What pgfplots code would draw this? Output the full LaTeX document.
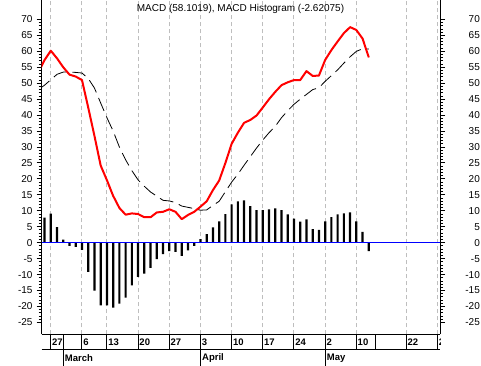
\documentclass[border=0pt]{standalone}
\usepackage{pgfplots}
\pgfplotsset{compat=1.18}
\usepackage{fontspec}
\setmainfont{Liberation Sans}
\definecolor{gridgray}{RGB}{190,190,190}
\begin{document}
\begin{tikzpicture}[x=1pt,y=1pt]
\useasboundingbox (0,0) rectangle (481,366);
% vertical dashed grid lines (behind everything)
\foreach \i in {0,5,9,14,19,24,29,34,39,44,49,57,62}{
  \pgfmathsetmacro\px{41.7+(\i+1.46)*6.2351}
  \draw[gridgray, line width=1pt, dash pattern=on 4pt off 3pt] (\px,31.7) -- (\px,366);
}
\begin{axis}[
  at={(41.7pt,31.7pt)}, anchor=south west,
  scale only axis, width=398.3pt, height=334.3pt,
  xmin=-1.46, xmax=62.42, ymin=-28.7, ymax=76.1,
  axis x line=bottom, axis y line=box,
  axis line style={-, line width=1pt, black},
  xtick=\empty,
  ytick={-25,-20,-15,-10,-5,0,5,10,15,20,25,30,35,40,45,50,55,60,65,70},
  yticklabels={-25,-20,-15,-10,-5,0,5,10,15,20,25,30,35,40,45,50,55,60,65,70},
  minor y tick num=4,
  tick align=outside, ytick pos=both,
  major tick length=5pt, minor tick length=3pt,
  tick style={black, line width=1pt},
  yticklabel style={font=\fontsize{10}{12}\selectfont, anchor=east, inner sep=0pt, xshift=-4pt},
]
\addplot[ybar, bar width=2.2pt, fill=black, draw=none] table[row sep=\\] {
x y\\
-1 7.9\\ 0 9.1\\ 1 4.9\\ 2 1.0\\ 3 -1.0\\ 4 -1.3\\ 5 -2.2\\ 6 -9.1\\ 7 -15.0\\ 8 -19.6\\
9 -19.6\\ 10 -20.3\\ 11 -19.1\\ 12 -17.2\\ 13 -13.4\\ 14 -10.7\\ 15 -9.7\\ 16 -7.9\\ 17 -5.1\\ 18 -3.6\\
19 -2.6\\ 20 -2.9\\ 21 -4.1\\ 22 -2.4\\ 23 -1.0\\ 24 1.1\\ 25 2.7\\ 26 4.8\\ 27 6.7\\ 28 9.0\\
29 12.0\\ 30 13.0\\ 31 13.3\\ 32 11.5\\ 33 10.2\\ 34 10.2\\ 35 10.5\\ 36 10.8\\ 37 10.2\\ 38 8.9\\
39 7.6\\ 40 6.6\\ 41 7.3\\ 42 4.3\\ 43 4.0\\ 44 6.7\\ 45 8.0\\ 46 8.9\\ 47 9.2\\ 48 9.5\\
49 6.7\\ 50 3.4\\ 51 -2.62\\
};
\addplot[blue, line width=1pt] coordinates {(-1.46,0) (62.42,0)};
\addplot[black, line width=0.8pt, dash pattern=on 14pt off 6pt] table[row sep=\\] {
x y\\
-2 48.0\\ -1 49.4\\ 0 51.1\\ 1 52.8\\ 2 53.5\\ 3 53.5\\ 4 53.4\\ 5 53.2\\ 6 51.5\\ 7 48.5\\
8 43.8\\ 9 39.2\\ 10 35.0\\ 11 30.0\\ 12 26.0\\ 13 22.6\\ 14 19.7\\ 15 17.7\\ 16 15.9\\ 17 14.6\\
18 13.3\\ 19 13.1\\ 20 12.6\\ 21 11.5\\ 22 11.1\\ 23 10.7\\ 24 10.2\\ 25 10.3\\ 26 11.7\\ 27 13.0\\
28 16.0\\ 29 19.0\\ 30 21.5\\ 31 24.3\\ 32 27.0\\ 33 29.7\\ 34 32.2\\ 35 34.5\\ 36 36.5\\ 37 39.2\\
38 41.4\\ 39 43.4\\ 40 45.0\\ 41 46.5\\ 42 48.0\\ 43 48.6\\ 44 50.6\\ 45 52.4\\ 46 54.2\\ 47 56.3\\
48 58.3\\ 49 60.0\\ 50 60.8\\ 51 60.72\\
};
\addplot[red, line width=2pt, line join=round] table[row sep=\\] {
x y\\
-2 53.3\\ -1 57.3\\ 0 60.2\\ 1 57.8\\ 2 55.0\\ 3 52.7\\ 4 52.1\\ 5 51.0\\ 6 42.4\\ 7 33.5\\
8 24.2\\ 9 19.6\\ 10 14.7\\ 11 10.9\\ 12 8.8\\ 13 9.2\\ 14 9.0\\ 15 8.0\\ 16 8.0\\ 17 9.5\\
18 9.7\\ 19 10.5\\ 20 9.7\\ 21 7.4\\ 22 8.7\\ 23 9.7\\ 24 11.3\\ 25 13.0\\ 26 16.5\\ 27 19.5\\
28 25.0\\ 29 31.0\\ 30 34.5\\ 31 37.6\\ 32 38.5\\ 33 39.9\\ 34 42.4\\ 35 45.0\\ 36 47.3\\ 37 49.4\\
38 50.3\\ 39 51.0\\ 40 51.0\\ 41 53.8\\ 42 52.3\\ 43 52.4\\ 44 57.3\\ 45 60.4\\ 46 63.1\\ 47 65.7\\
48 67.6\\ 49 66.7\\ 50 64.0\\ 51 58.1\\
};
\end{axis}
% right-hand tick labels
\begin{axis}[
  at={(41.7pt,31.7pt)}, anchor=south west,
  scale only axis, width=398.3pt, height=334.3pt,
  xmin=-1.46, xmax=62.42, ymin=-28.7, ymax=76.1,
  hide x axis, axis y line*=right, y axis line style={draw=none},
  ytick={-25,-20,-15,-10,-5,0,5,10,15,20,25,30,35,40,45,50,55,60,65,70},
  yticklabels={-25,-20,-15,-10,-5,0,5,10,15,20,25,30,35,40,45,50,55,60,65,70},
  major tick length=0pt, minor tick num=0, ytick style={draw=none},
  yticklabel pos=right,
  yticklabel style={font=\fontsize{10}{12}\selectfont, anchor=east, inner sep=0pt, xshift=40pt},
]
\addplot[draw=none] coordinates {(0,0)};
\end{axis}
% date band below the plot
\draw[black, line width=1pt] (41.7,16) -- (440,16);
\begin{scope}
\clip (41.7,15) rectangle (440,31.7);
\foreach \i/\lab in {0/27,5/6,9/13,14/20,19/27,24/3,29/10,34/17,39/24,44/2,49/10,52/{},57/22,62/29}{
  \pgfmathsetmacro\px{41.7+(\i+1.46)*6.2351}
  \draw[black, line width=1pt] (\px,31.7) -- (\px,16);
  \node[anchor=west, inner sep=0pt, font=\fontsize{9.5}{11}\selectfont\bfseries] at (\px+1.2,24) {\lab};
}
\end{scope}
\foreach \i/\lab in {2/March,24/April,44/May}{
  \pgfmathsetmacro\px{41.7+(\i+1.46)*6.2351}
  \draw[black, line width=1pt] (\px,31.7) -- (\px,0);
  \node[anchor=west, inner sep=0pt, font=\fontsize{9.5}{11}\selectfont\bfseries] at (\px+1.5,7.5) {\lab};
}
\node[font=\fontsize{10}{12}\selectfont] at (240.5,357.5) {MACD (58.1019), MACD Histogram (-2.62075)};
\end{tikzpicture}
\end{document}
